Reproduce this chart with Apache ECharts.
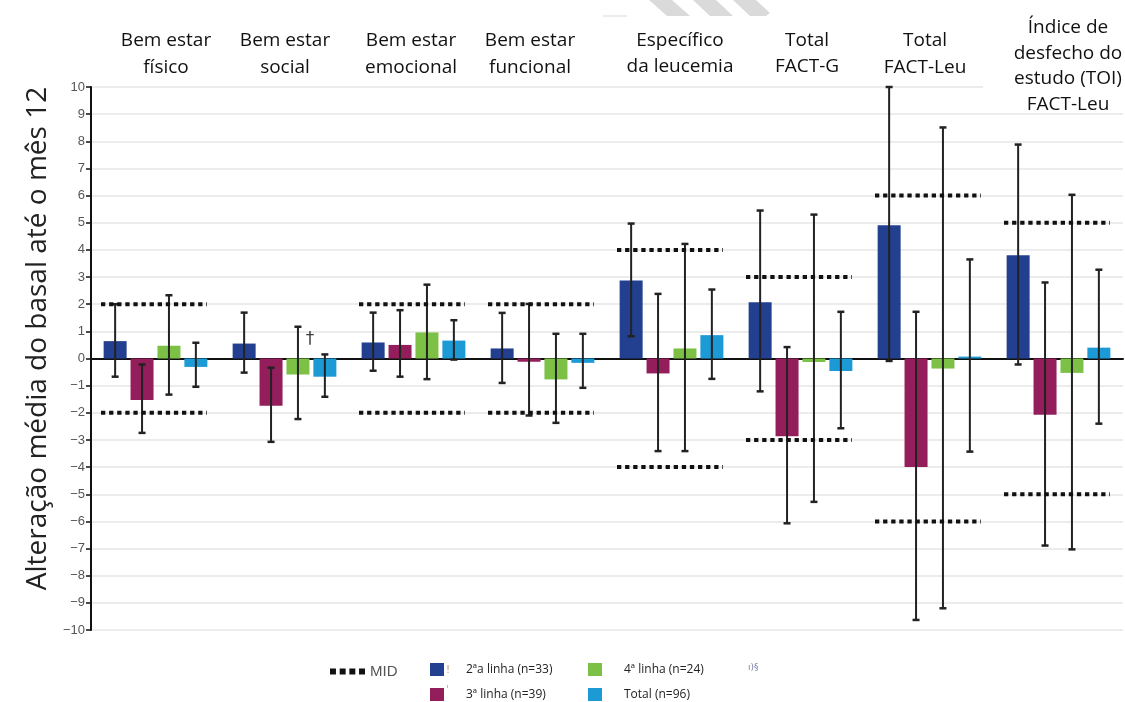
<!DOCTYPE html>
<html>

<head>
    <meta charset="utf-8" />
    <title>ECharts</title>
    <script src="https://cdn.jsdelivr.net/npm/echarts@6.0.0/dist/echarts.min.js"></script>
</head>

<body style="margin:0">
    <style>
        #main {
            width: 1125px;
            height: 702px;
        }
    </style>
    <div id="main"></div>
    <script type="text/javascript">
        // categorias (cabecalhos no topo)
        var categories = ['Bem estar\nfísico', 'Bem estar\nsocial', 'Bem estar\nemocional', 'Bem estar\nfuncional',
            'Específico\nda leucemia', 'Total\nFACT-G', 'Total\nFACT-Leu', 'Índice de\ndesfecho do\nestudo (TOI)\nFACT-Leu'];
        var seriesNames = ['2ªa linha (n=33)', '3ª linha (n=39)', '4ª linha (n=24)', 'Total (n=96)'];

        // medias
        var linha2 = [0.64, 0.55, 0.59, 0.37, 2.87, 2.07, 4.91, 3.80];
        var linha3 = [-1.53, -1.74, 0.50, -0.12, -0.55, -2.86, -4.00, -2.07];
        var linha4 = [0.47, -0.59, 0.96, -0.77, 0.37, -0.13, -0.37, -0.53];
        var total = [-0.31, -0.67, 0.66, -0.16, 0.86, -0.46, 0.07, 0.40];

        // barras de erro (inferior / superior)
        var linha2Low = [-0.67, -0.52, -0.45, -0.90, 0.82, -1.21, -0.09, -0.22];
        var linha2High = [2.00, 1.69, 1.69, 1.68, 4.97, 5.45, 10.0, 7.88];
        var linha3Low = [-2.74, -3.07, -0.67, -2.10, -3.41, -6.07, -9.63, -6.89];
        var linha3High = [-0.22, -0.34, 1.78, 2.01, 2.38, 0.42, 1.72, 2.80];
        var linha4Low = [-1.33, -2.23, -0.76, -2.37, -3.41, -5.28, -9.20, -7.03];
        var linha4High = [2.33, 1.17, 2.72, 0.91, 4.22, 5.30, 8.51, 6.03];
        var totalLow = [-1.04, -1.41, -0.04, -1.08, -0.75, -2.57, -3.43, -2.40];
        var totalHigh = [0.58, 0.15, 1.41, 0.91, 2.54, 1.72, 3.65, 3.27];

        // MID (+/-)
        var mid = [2, null, 2, 2, 4, 3, 6, 5];

        var colors = ['#22408f', '#931e5b', '#7cc145', '#1b9ad6'];
        var means = [linha2, linha3, linha4, total];
        var lows = [linha2Low, linha3Low, linha4Low, totalLow];
        var highs = [linha2High, linha3High, linha4High, totalHigh];

        var BAR_W = 23, BAR_GAP = 0.17;

        // posicoes dos cabecalhos (centro x, topo y, altura da linha)
        var headerPos = [[166, 27, 27], [285, 27, 27], [411, 27, 27], [530, 27, 27],
            [680, 28, 26], [807, 28, 26], [925, 27, 27], [1068, 15, 25.5]];

        var myChart = echarts.init(document.getElementById('main'));

        var series = [];
        means.forEach(function (vals, i) {
            series.push({
                name: seriesNames[i],
                type: 'bar',
                barWidth: BAR_W,
                barGap: (BAR_GAP * 100) + '%',
                itemStyle: { color: colors[i] },
                data: vals
            });
        });
        means.forEach(function (vals, i) {
            var off = (i - 1.5) * BAR_W * (1 + BAR_GAP);
            series.push({
                name: 'err' + i,
                type: 'custom',
                z: 5,
                data: vals.map(function (v, j) { return [j, lows[i][j], highs[i][j]]; }),
                renderItem: function (params, api) {
                    var lo = api.coord([api.value(0), api.value(1)]);
                    var hi = api.coord([api.value(0), api.value(2)]);
                    var x = lo[0] + off;
                    var st = { stroke: '#222', lineWidth: 2 };
                    return {
                        type: 'group',
                        children: [
                            { type: 'line', shape: { x1: x, y1: lo[1], x2: x, y2: hi[1] }, style: st },
                            { type: 'line', shape: { x1: x - 3.5, y1: lo[1], x2: x + 3.5, y2: lo[1] }, style: { stroke: '#222', lineWidth: 2.5 } },
                            { type: 'line', shape: { x1: x - 3.5, y1: hi[1], x2: x + 3.5, y2: hi[1] }, style: { stroke: '#222', lineWidth: 2.5 } }
                        ]
                    };
                }
            });
        });
        series.push({
            name: 'MID',
            type: 'custom',
            z: 6,
            itemStyle: { color: '#111' },
            data: mid.map(function (v, j) { return [j, v]; }).filter(function (d) { return d[1] != null; }),
            renderItem: function (params, api) {
                var v = api.value(1);
                var up = api.coord([api.value(0), v]);
                var dn = api.coord([api.value(0), -v]);
                var bw = api.size([1, 0])[0];
                var x1 = up[0] - bw / 2 + 10, x2 = up[0] + bw / 2 - 13;
                var st = { stroke: '#111', lineWidth: 4, lineDash: [4.3, 3.8] };
                return {
                    type: 'group',
                    children: [
                        { type: 'line', shape: { x1: x1, y1: up[1], x2: x2, y2: up[1] }, style: st },
                        { type: 'line', shape: { x1: x1, y1: dn[1], x2: x2, y2: dn[1] }, style: st }
                    ]
                };
            }
        });

        var graphics = categories.map(function (c, i) {
            return {
                type: 'text',
                z: 120,
                style: {
                    text: c, x: headerPos[i][0], y: headerPos[i][1],
                    align: 'center', verticalAlign: 'top',
                    font: '19px "Open Sans"', lineHeight: headerPos[i][2], fill: '#111'
                }
            };
        });
        // faixa branca sobre a grade no canto superior direito
        graphics.push({ type: 'rect', z: 110, shape: { x: 983, y: 78, width: 142, height: 18 }, style: { fill: '#fff' } });
        // marca d'agua
        graphics.push({ type: 'polygon', z: 110, shape: { points: [[649, 0], [672, 0], [690, 16], [667, 16]] }, style: { fill: '#dadada' } });
        graphics.push({ type: 'polygon', z: 110, shape: { points: [[693, 0], [716, 0], [733, 16], [710, 16]] }, style: { fill: '#dadada' } });
        graphics.push({ type: 'polygon', z: 110, shape: { points: [[733, 0], [756, 0], [770, 13], [766, 16], [750, 16]] }, style: { fill: '#dadada' } });
        graphics.push({ type: 'rect', z: 110, shape: { x: 603, y: 15, width: 24, height: 2 }, style: { fill: '#ececec' } });
        // adaga
        graphics.push({ type: 'text', z: 120, style: { text: '†', x: 310, y: 340, align: 'center', verticalAlign: 'middle', font: '17px "DejaVu Sans"', fill: '#3b3b3b' } });
        // restos de texto na legenda
        graphics.push({ type: 'text', z: 120, style: { text: '!', x: 446, y: 670, verticalAlign: 'middle', font: '10px "DejaVu Sans"', fill: '#b9a27a' } });
        graphics.push({ type: 'text', z: 120, style: { text: 'ˈ', x: 446, y: 690, verticalAlign: 'middle', font: '10px "DejaVu Sans"', fill: '#999' } });
        graphics.push({ type: 'text', z: 120, style: { text: 'ı)§', x: 748, y: 668, verticalAlign: 'middle', font: '9px "DejaVu Sans"', fill: '#7f84a8' } });

        var legendText = { fontFamily: 'Open Sans', fontSize: 12, color: '#222', padding: [0, 0, 0, 17] };

        var option = {
            animation: false,
            backgroundColor: '#fff',
            grid: { left: 91, right: 2, top: 87, bottom: 72 },
            legend: [
                {
                    data: [{ name: 'MID', icon: 'path://M0,0h4v4h-4z M6.5,0h4v4h-4z M13,0h4v4h-4z M19.5,0h4v4h-4z' }],
                    left: 330, top: 664, padding: 0, itemWidth: 35, itemHeight: 6,
                    textStyle: { fontFamily: 'Liberation Sans', fontSize: 15, color: '#555' },
                    selectedMode: false
                },
                {
                    data: seriesNames.slice(0, 2), orient: 'vertical', icon: 'rect',
                    left: 430, top: 663, padding: 0, itemWidth: 14, itemHeight: 13, itemGap: 12,
                    textStyle: legendText, selectedMode: false
                },
                {
                    data: seriesNames.slice(2), orient: 'vertical', icon: 'rect',
                    left: 588, top: 663, padding: 0, itemWidth: 14, itemHeight: 13, itemGap: 12,
                    textStyle: legendText, selectedMode: false
                }
            ],
            xAxis: [{
                type: 'category',
                data: categories,
                axisLine: { onZero: true, lineStyle: { color: '#111', width: 2 } },
                axisTick: { length: 5, lineStyle: { color: '#111', width: 2 } },
                axisLabel: { show: false }
            }, {
                type: 'category',
                data: categories,
                position: 'bottom',
                axisLine: { show: false, onZero: true },
                axisTick: { inside: true, length: 5, lineStyle: { color: '#111', width: 2 } },
                axisLabel: { show: false }
            }],
            yAxis: {
                type: 'value',
                min: -10,
                max: 10,
                interval: 1,
                name: 'Alteração média do basal até o mês 12',
                nameLocation: 'middle',
                nameGap: 38,
                nameTextStyle: { fontFamily: 'Open Sans', fontSize: 28, color: '#222', padding: [0, 0, 0, 40] },
                axisLine: { show: true, lineStyle: { color: '#111', width: 2 } },
                axisTick: { show: true, length: 5, lineStyle: { color: '#111', width: 1.5 } },
                axisLabel: {
                    fontFamily: 'Liberation Sans', fontSize: 13, color: '#555', margin: 6,
                    formatter: function (v) { return String(v).replace('-', '−'); }
                },
                splitLine: { lineStyle: { color: '#e6e6e6', width: 1.5 } }
            },
            graphic: graphics,
            series: series
        };
        myChart.setOption(option);
    </script>
</body>

</html>
